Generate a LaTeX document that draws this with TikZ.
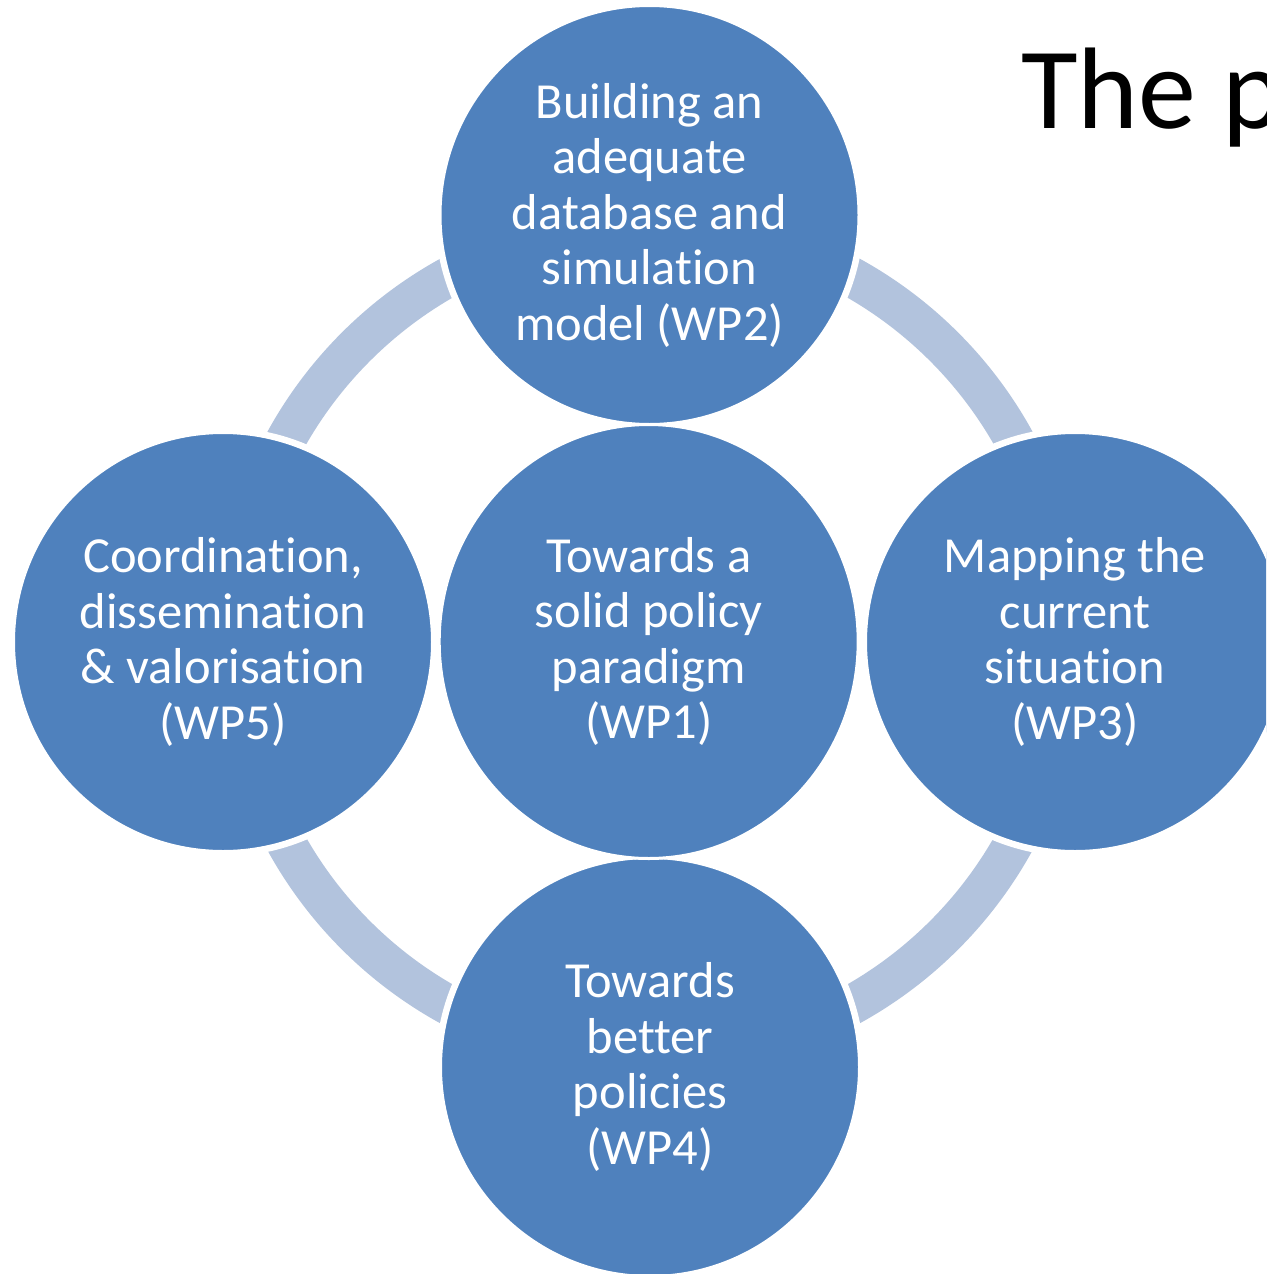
\documentclass[tikz,border=0pt]{standalone}
\usepackage{fontspec}
\setmainfont{Carlito}[Ligatures=NoCommon]
\usetikzlibrary{shapes.geometric}
\definecolor{wpblue}{RGB}{79,129,189}
\definecolor{ringblue}{RGB}{178,195,221}

\begin{document}
\begin{tikzpicture}[x=1pt, y=-1pt,
    workpackage/.style ={circle, fill=wpblue, draw=white, line width=6.5pt, inner sep=0pt,
      minimum size=422.5pt, text=white, align=center, font=\fontsize{50.5}{55.5}\selectfont},
    core/.style ={workpackage, ellipse, line width=3pt, minimum width=419pt, minimum height=434pt},
    ring/.style ={draw=ringblue, line width=40pt}]
   \clip (0,0) rectangle (1266,1274);
   \coordinate (O) at (650,641);
   \draw[ring] (O) circle (416pt);
   \node[workpackage] (WP2) at (649.5,215) {Building an\\adequate\\database and\\simulation\\model (WP2)};
   \node[workpackage] (WP5) at (223,642) {Coordination,\\dissemination\\\& valorisation\\(WP5)};
   \node[workpackage] (WP3) at (1075,642) {Mapping the\\current\\situation\\(WP3)};
   \node[workpackage] (WP4) at (650,1067) {Towards\\better\\policies\\(WP4)};
   \node[core] (WP1) at (648.7,641.5) {Towards a\\solid policy\\paradigm\\(WP1)};
   \node[anchor=base west, inner sep=0pt, font=\fontsize{116}{130}\selectfont] (title) at (1021,128) {The p};
 \end{tikzpicture}
\end{document}
